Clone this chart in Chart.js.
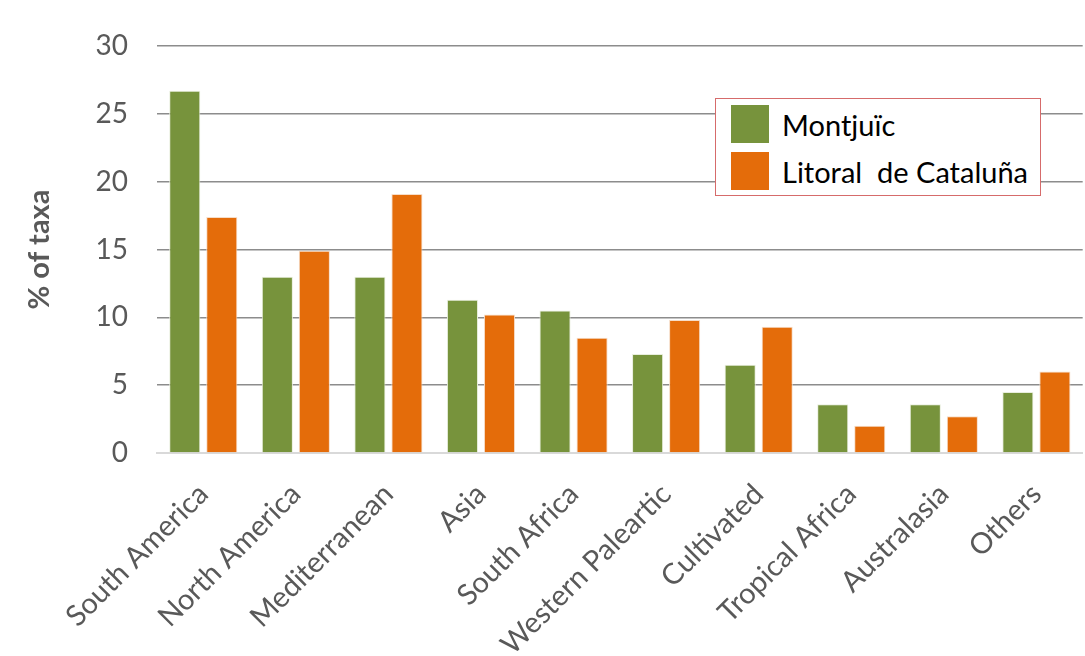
<!DOCTYPE html>
<html>
<head>
<meta charset="utf-8">
<script src="https://cdn.jsdelivr.net/npm/chart.js@4"></script>
<style>
  html, body { margin: 0; padding: 0; background: #fff; }
  #wrap { position: relative; width: 1085px; height: 656px; }
  #legend {
    position: absolute; left: 715px; top: 98px; width: 324px; height: 96px;
    border: 1px solid #d66b6b; background: #fff;
    font-family: Lato, "Liberation Sans", sans-serif; font-size: 29px; color: #000;
  }
  #legend .item { position: absolute; left: 15px; height: 38px; display: flex; align-items: center; white-space: pre; }
  #legend .sw { width: 38px; height: 38px; margin-right: 13px; }
</style>
</head>
<body>
<div id="wrap">
  <canvas id="taxaChart" width="1085" height="656"></canvas>
  <div id="legend"></div>
</div>
<script>
// regions of origin and % of taxa per flora
const regions = ['South America', 'North America', 'Mediterranean', 'Asia', 'South Africa',
                 'Western Paleartic', 'Cultivated', 'Tropical Africa', 'Australasia', 'Others'];
const montjuic = [26.7, 13.0, 13.0, 11.3, 10.5, 7.3, 6.5, 3.6, 3.6, 4.5];
const litoral  = [17.4, 14.9, 19.1, 10.2, 8.5, 9.8, 9.3, 2.0, 2.7, 6.0];
const yTicks = [0, 5, 10, 15, 20, 25, 30];

const seriesNames = ['Montjuïc', 'Litoral  de Cataluña'];
const colors = ['#77933c', '#e46c0a'];
const textGray = '#595959';

const chart = new Chart(document.getElementById('taxaChart'), {
    type: 'bar',
    data: {
        labels: regions,
        datasets: [
            { label: seriesNames[0], data: montjuic, backgroundColor: colors[0], borderColor: '#e8eedd', borderWidth: 1 },
            { label: seriesNames[1], data: litoral, backgroundColor: colors[1], borderColor: '#f6ddc8', borderWidth: 1 }
        ]
    },
    options: {
        responsive: false,
        animation: false,
        layout: { padding: { top: 46, right: 0, left: 0, bottom: 0 } },
        plugins: {
            legend: { display: false },
            tooltip: { enabled: false }
        },
        datasets: {
            bar: { categoryPercentage: 0.8, barPercentage: 0.84 }
        },
        scales: {
            x: {
                grid: { display: false, drawTicks: false },
                border: { color: '#d9d9d9', width: 2 },
                ticks: {
                    color: textGray,
                    font: { family: 'Lato', size: 29 },
                    minRotation: 45, maxRotation: 45,
                    padding: 24,
                    autoSkip: false
                },
                afterFit: s => { s.height = 203; }
            },
            y: {
                min: 0, max: 30,
                afterBuildTicks: s => { s.ticks = yTicks.map(v => ({ value: v })); },
                grid: { color: '#8c8c8c', lineWidth: 1.5, drawTicks: false },
                border: { display: false },
                ticks: {
                    color: textGray,
                    font: { family: 'Lato', size: 28 },
                    padding: 29
                },
                title: {
                    display: true,
                    text: '% of taxa',
                    color: textGray,
                    font: { family: 'Lato', size: 29, weight: 'bold' },
                    padding: { top: 22, bottom: 0 }
                },
                afterFit: s => { s.width = 157; }
            }
        }
    }
});

// legend box drawn as HTML from the dataset names/colours
const legendEl = document.getElementById('legend');
chart.data.datasets.forEach((ds, i) => {
    const item = document.createElement('div');
    item.className = 'item';
    item.style.top = (6 + i * 47) + 'px';
    item.innerHTML = '<span class="sw" style="background:' + ds.backgroundColor + '"></span><span></span>';
    item.lastChild.textContent = ds.label;
    legendEl.appendChild(item);
});
</script>
</body>
</html>
